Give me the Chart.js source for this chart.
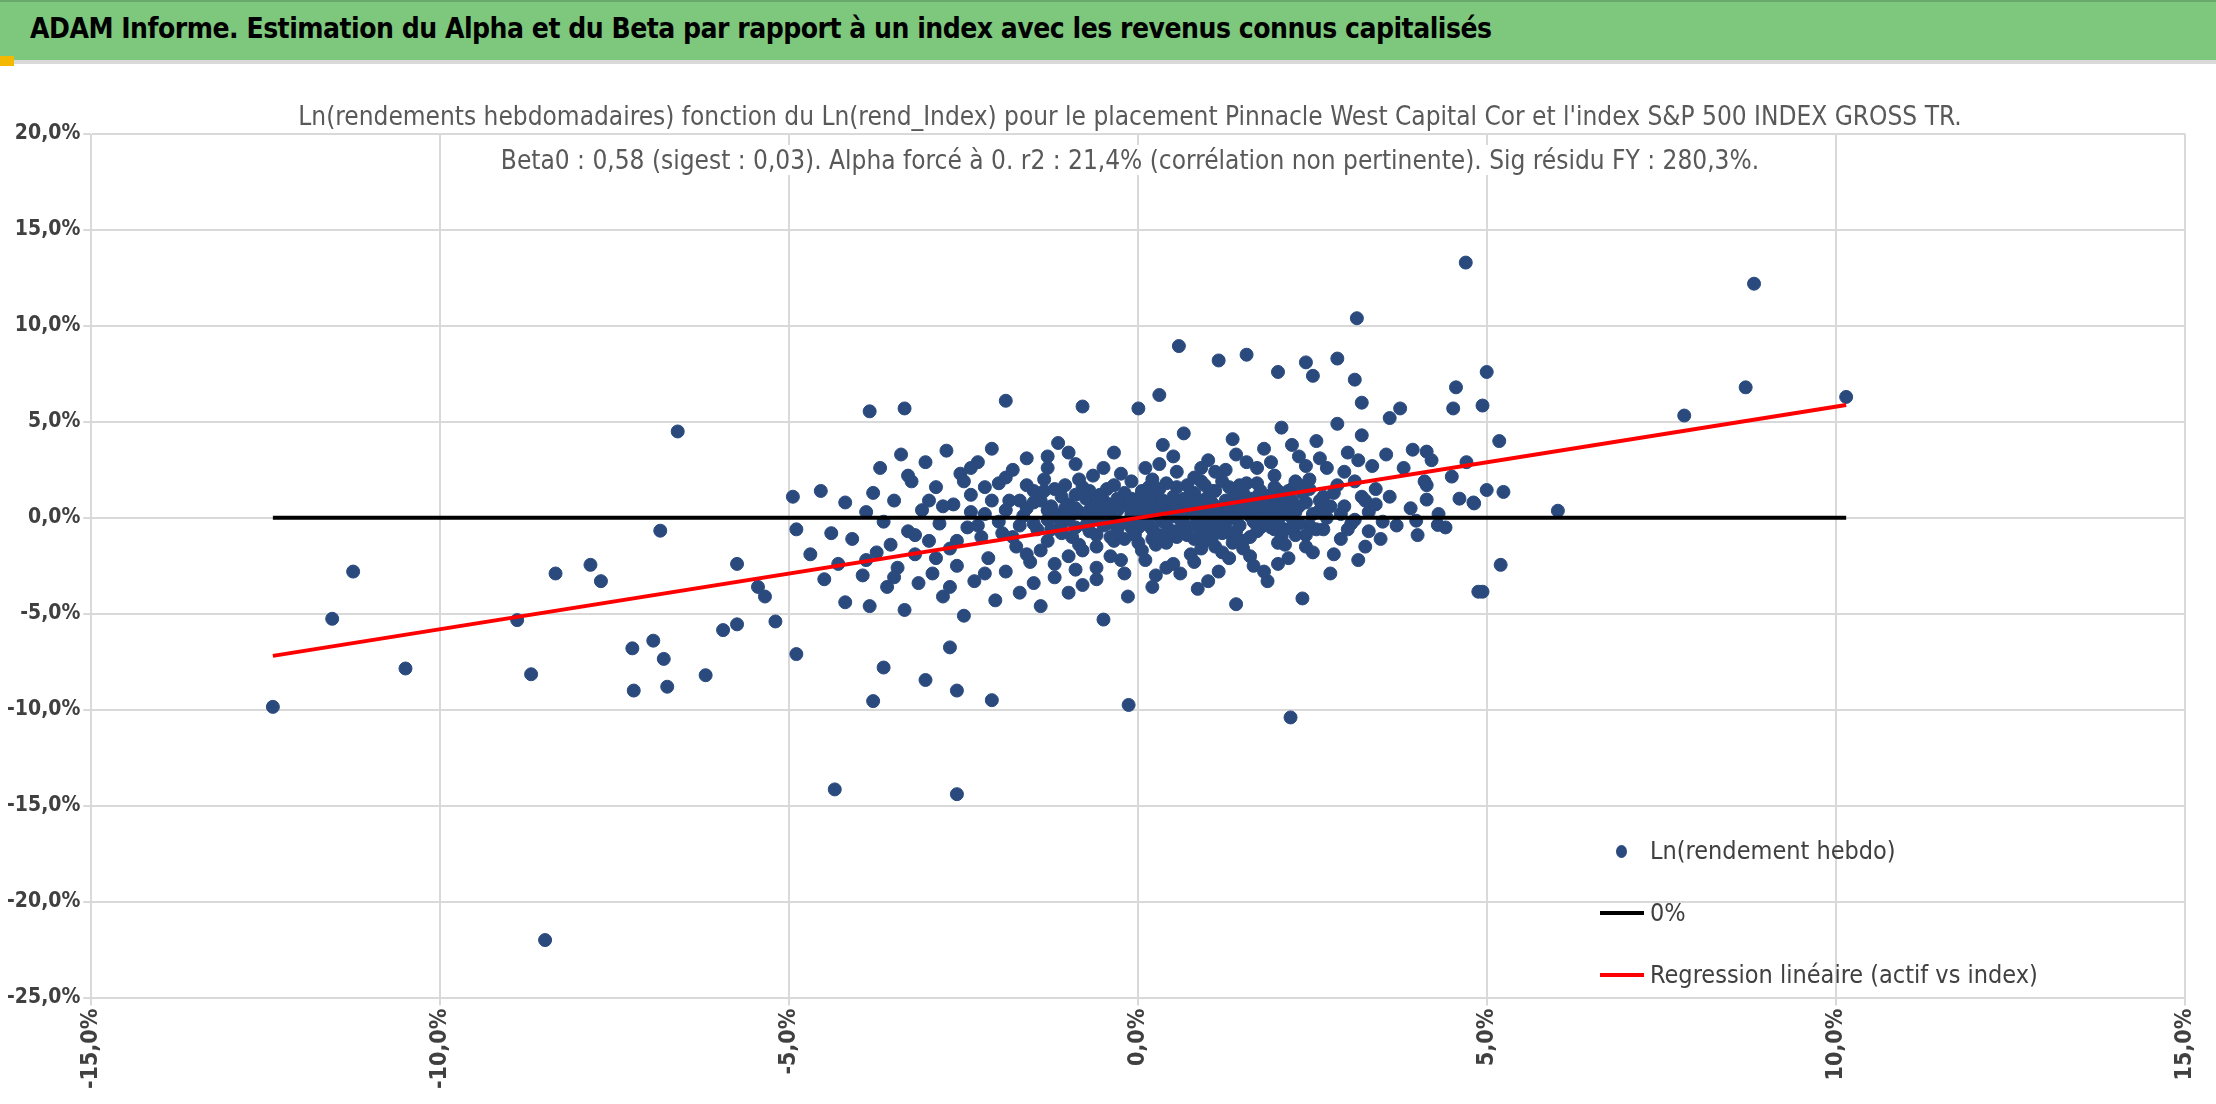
<!DOCTYPE html>
<html>
<head>
<meta charset="utf-8">
<script src="https://cdn.jsdelivr.net/npm/chart.js@4/dist/chart.umd.min.js"></script>
<style>
  body { margin:0; background:#fff; font-family:"DejaVu Sans",sans-serif; }
  #head { position:absolute; left:0; top:0; width:2216px; height:58px; background:#7dc87d; border-top:2px solid #6aa86a; border-bottom:4px solid #d9d9d9; }
  #head span { position:absolute; left:30px; top:10px; font-size:28px; font-weight:bold; color:#000; font-family:"DejaVu Sans Condensed","DejaVu Sans"; letter-spacing:-0.5px; }
  #mark { position:absolute; left:0; top:56px; width:14px; height:10px; background:#f5b800; }
  #wrap { position:absolute; left:0; top:64px; width:2216px; height:1040px; }
  #ttl { position:absolute; left:150px; top:94px; width:1960px; text-align:center; font-size:26px; line-height:44px; color:#595959; font-family:"DejaVu Sans Condensed","DejaVu Sans"; }
  #ttl span { background:#fff; }
  #leg { position:absolute; left:1600px; top:820px; font-size:25px; color:#404040; line-height:62px; font-family:"DejaVu Sans Condensed","DejaVu Sans"; }
  .row { display:flex; align-items:center; }
  .sym { width:44px; height:20px; position:relative; margin-right:6px; }
</style>
</head>
<body>
<div id="head"><span>ADAM Informe. Estimation du Alpha et du Beta par rapport à un index avec les revenus connus capitalisés</span></div>
<div id="mark"></div>
<div id="wrap"><canvas id="c" width="2216" height="1040"></canvas></div>
<div id="ttl"><span>Ln(rendements hebdomadaires) fonction du Ln(rend_Index) pour le placement Pinnacle West Capital Cor et l'index S&amp;P 500 INDEX GROSS TR.</span><br><span>Beta0 : 0,58 (sigest : 0,03). Alpha forcé à 0. r2 : 21,4% (corrélation non pertinente). Sig résidu FY : 280,3%.</span></div>
<div id="leg">
  <div class="row"><div class="sym"><div style="position:absolute;left:16px;top:4px;width:11px;height:13px;border-radius:50%;background:#2a4a7e"></div></div>Ln(rendement hebdo)</div>
  <div class="row"><div class="sym"><div style="position:absolute;left:0;top:8px;width:44px;height:4px;background:#000"></div></div>0%</div>
  <div class="row"><div class="sym"><div style="position:absolute;left:0;top:8px;width:44px;height:4px;background:#ff0000"></div></div>Regression linéaire (actif vs index)</div>
</div>
<script>
// weekly log returns, in % : [index, asset]
const outliers = [
  [-12.4,-9.85],[-11.55,-5.26],[-11.25,-2.8],[-10.5,-7.85],[-8.9,-5.33],[-8.7,-8.15],[-8.35,-2.9],
  [-7.85,-2.45],[-7.7,-3.3],[-7.25,-6.8],[-7.23,-9.0],[-6.95,-6.4],[-6.85,-0.67],[-6.8,-7.35],
  [-6.75,-8.8],[-6.6,4.5],[-6.2,-8.2],[-8.5,-22.0],[-5.95,-5.85],[-5.75,-2.4],[-5.75,-5.55],
  [-5.45,-3.6],[-5.35,-4.1],[-5.2,-5.4],[-4.95,1.1],[-4.9,-7.1],[-4.55,1.4],[-4.35,-14.15],
  [-3.85,5.55],[-3.8,-9.55],[-3.65,-7.8],[-3.35,5.7],[-3.05,-8.45],[-2.7,-6.75],[-2.6,-9.0],
  [-2.6,-14.4],[-2.1,-9.5],[-1.9,6.1],[-0.14,-9.75],[0.58,8.95],[4.69,13.3],[3.13,10.4],
  [2.18,-10.4],[4.99,7.6],[4.55,6.8],[4.51,5.7],[4.93,5.85],[5.17,4.0],[5.23,1.35],[4.99,1.45],
  [5.19,-2.45],[4.87,-3.85],[4.93,-3.85],[4.81,0.75],[3.98,-0.15],[4.29,-0.37],[3.75,5.7],
  [3.6,5.2],[4.13,3.45],[3.93,3.55],[4.49,2.15],[4.13,1.7],[4.13,0.95],[3.47,-1.1],[3.25,-1.5],
  [6.01,0.37],[7.82,5.33],[8.7,6.8],[8.82,12.2],[10.14,6.3],[1.55,8.5],[2.4,8.1],[2.85,8.3],
  [1.15,8.2],[2.0,7.6],[2.5,7.4],[3.1,7.2],[0.3,6.4],[-0.8,5.8],[0.0,5.7],[3.2,6.0]
];
const cloud = [
  [-4.9,-0.6],[-4.7,-1.9],[-4.5,-3.2],[-4.4,-0.8],[-4.3,-2.4],[-4.2,-4.4],[-4.1,-1.1],[-3.95,-3.0],
  [-3.9,0.3],[-3.85,-4.6],[-3.8,1.3],[-3.75,-1.8],[-3.7,2.6],[-3.65,-0.2],[-3.6,-3.6],[-3.55,-1.4],
  [-3.5,0.9],[-3.45,-2.6],[-3.4,3.3],[-3.35,-4.8],[-3.3,-0.7],[-3.25,1.9],[-3.2,-1.9],[-3.15,-3.4],
  [-3.1,0.4],[-3.05,2.9],[-3.0,-1.2],[-2.95,-2.9],[-2.9,1.6],[-2.85,-0.3],[-2.8,-4.1],[-2.75,3.5],
  [-2.7,-1.6],[-2.65,0.7],[-2.6,-2.5],[-2.55,2.3],[-2.5,-5.1],[-2.45,-0.5],[-2.4,1.2],[-2.35,-3.3],
  [-2.3,2.9],[-2.25,-1.0],[-2.2,0.2],[-2.15,-2.1],[-2.1,3.6],[-2.05,-4.3],[-2.0,1.8],[-1.95,-0.8],
  [-1.9,-2.8],[-1.85,0.9],[-1.8,2.5],[-1.75,-1.5],[-1.7,-3.9],[-1.65,0.1],[-1.6,3.1],[-1.55,-2.3],
  [-1.5,1.4],[-1.45,-0.6],[-1.4,-4.6],[-1.35,2.0],[-1.3,-1.2],[-1.25,0.6],[-1.2,-3.1],[-1.15,3.9],
  [-1.1,-0.3],[-1.05,1.7],[-1.0,-2.0],[-0.95,0.2],[-0.9,2.8],[-0.85,-1.4],[-0.8,-3.5],[-0.75,1.0],
  [-0.7,-0.7],[-0.65,2.2],[-0.6,-2.6],[-0.55,0.4],[-0.5,-5.3],[-0.45,1.5],[-0.4,-1.0],[-0.35,3.4],
  [-0.3,-0.2],[-0.25,-2.2],[-0.2,0.8],[-0.15,-4.1],[-0.1,1.9],[-0.05,-0.9],[0.0,0.3],[0.05,-1.7],
  [0.1,2.6],[0.15,-0.4],[0.2,1.1],[0.25,-3.0],[0.3,0.0],[0.35,3.8],[0.4,-1.3],[0.45,0.7],
  [0.5,-2.4],[0.55,1.6],[0.6,-0.6],[0.65,4.4],[0.7,0.3],[0.75,-1.9],[0.8,2.1],[0.85,-3.7],
  [0.9,0.9],[0.95,-0.2],[1.0,3.0],[1.05,-1.1],[1.1,1.4],[1.15,-2.8],[1.2,0.5],[1.25,2.5],
  [1.3,-0.8],[1.35,4.1],[1.4,-4.5],[1.45,1.1],[1.5,-1.6],[1.55,2.9],[1.6,0.1],[1.65,-2.5],
  [1.7,1.8],[1.75,-0.5],[1.8,3.6],[1.85,-3.3],[1.9,0.7],[1.95,2.2],[2.0,-1.3],[2.05,4.7],
  [2.1,0.2],[2.15,-2.1],[2.2,1.5],[2.25,-0.9],[2.3,3.2],[2.35,-4.2],[2.4,0.8],[2.45,2.0],
  [2.5,-1.8],[2.55,4.0],[2.6,0.4],[2.65,-0.6],[2.7,2.6],[2.75,-2.9],[2.8,1.3],[2.85,4.9],
  [2.9,-1.1],[2.95,0.6],[3.0,3.4],[3.05,-0.3],[3.1,1.9],[3.15,-2.2],[3.2,4.3],[3.25,0.9],
  [3.3,-0.7],[3.35,2.7],[3.4,1.5],[3.5,-0.2],[3.55,3.3],[3.6,1.1],[3.7,-0.4],[3.8,2.6],
  [3.9,0.5],[4.0,-0.9],[4.1,1.9],[4.2,3.0],[4.3,0.2],[4.4,-0.5],[4.6,1.0],[4.7,2.9],[4.8,0.8],
  [-0.9,0.5],[-0.7,-0.1],[-0.5,0.9],[-0.3,-0.6],[-0.1,0.2],[0.1,-0.3],[0.3,0.6],[0.5,0.1],
  [0.7,-0.9],[0.9,0.4],[1.1,-0.2],[1.3,0.9],[1.5,0.3],[1.7,-0.7],[1.9,1.2],[-1.1,1.1],
  [-0.8,1.6],[-0.6,-1.5],[-0.4,0.1],[-0.2,1.3],[0.0,-0.5],[0.2,-1.1],[0.4,1.8],[0.6,0.6],
  [0.8,1.3],[1.0,-0.6],[1.2,1.9],[1.4,0.4],[1.6,-1.0],[1.8,0.5],[2.0,1.4],[2.2,0.0],
  [-1.3,-0.1],[-1.0,0.7],[-0.75,-0.4],[-0.55,1.2],[-0.35,-1.2],[-0.15,0.6],[0.05,1.4],[0.25,0.3],
  [0.45,-0.7],[0.65,1.0],[0.85,0.0],[1.05,0.8],[1.25,-0.3],[1.45,1.7],[1.65,0.7],[1.85,-0.2],
  [2.05,0.9],[2.25,1.9],[2.45,-0.4],[2.65,1.1],[-1.6,0.5],[-1.4,-1.7],[-1.2,0.2],[-0.95,-1.0],
  [-0.65,0.0],[-0.45,-0.3],[-0.25,2.3],[-0.05,-0.1],[0.15,0.9],[0.35,-0.2],[0.55,2.4],[0.75,0.5],
  [0.95,1.7],[1.15,0.1],[1.35,-1.3],[1.55,0.6],[1.75,1.4],[1.95,-0.6],[2.15,0.5],[2.35,1.3],
  [-2.0,-0.2],[-1.8,-1.0],[-1.5,-0.3],[-1.2,1.5],[-0.9,-0.5],[-0.6,0.8],[-0.3,0.4],[0.0,1.0],
  [0.2,0.4],[0.4,0.5],[0.6,-0.1],[0.8,-0.4],[1.0,0.3],[1.2,-0.8],[1.4,1.2],[1.6,1.0],
  [1.8,-0.1],[2.0,0.4],[2.3,-0.3],[2.6,0.9],[2.9,0.2],[3.1,-0.1],[-2.4,0.3],[-2.8,0.6],
  [-3.2,-0.9],[-1.7,0.9],[-1.3,2.6],[-0.85,2.0],[0.3,2.8],[0.9,-1.6],[1.1,2.4],[1.7,2.6],
  [2.1,-0.6],[2.4,2.7],[2.7,0.0],[3.3,0.3],[-0.2,-2.9],[0.6,-2.9],[1.3,-2.1],[-1.0,-3.9]
];
const core = [
  [-1.0,-0.1],[-0.85,0.3],[-0.7,1.4],[-0.6,-0.9],[-0.4,0.7],[-0.2,-1.1],[-0.1,1.0],[0.1,0.7],
  [0.2,-0.6],[0.3,1.5],[0.4,-0.3],[0.5,1.1],[0.6,0.2],[0.7,1.7],[0.8,-1.1],[0.9,-0.7],
  [1.0,1.1],[1.1,0.6],[1.2,-0.4],[1.3,0.3],[1.4,-0.7],[1.5,1.3],[1.6,0.4],[1.7,0.2],
  [1.8,1.0],[1.9,-0.5],[2.0,-0.2],[2.1,1.1],[2.2,-0.5],[2.3,0.6],[2.4,-0.9],[2.5,0.2],
  [-1.5,0.8],[-1.3,0.4],[-1.1,-0.8],[-0.9,1.2],[-0.7,0.4],[-0.5,-0.4],[-0.3,1.0],[-0.1,-0.5],
  [0.05,0.5],[0.15,1.6],[0.25,-1.4],[0.35,0.9],[0.45,0.3],[0.55,-1.0],[0.65,-0.3],[0.75,1.3],
  [0.85,0.7],[0.95,-1.2],[1.05,1.4],[1.15,-0.6],[1.25,0.9],[1.35,0.0],[1.45,-0.4],[1.55,1.8],
  [1.65,-0.2],[1.75,0.9],[1.85,0.3],[1.95,1.6],[2.05,-1.0],[2.15,1.4],[2.25,0.3],[2.45,1.5],
  [-1.9,0.4],[-1.7,-0.4],[-1.6,1.7],[-1.4,0.9],[-1.25,-0.6],[-1.05,0.5],[-0.8,-1.7],[-0.55,-0.1],
  [-0.35,1.7],[-0.15,-0.2],[0.0,-1.3],[0.2,2.0],[0.35,0.4],[0.5,-0.7],[0.7,0.8],[0.9,1.9],
  [1.1,-1.5],[1.3,1.6],[1.5,-1.2],[1.7,1.1],[1.9,0.0],[2.1,-1.4],[2.3,1.7],[2.55,-0.6],
  [2.75,0.6],[2.85,1.7],[3.0,-0.6],[3.2,1.1],[3.4,0.7],[2.95,2.4],[3.15,3.0],[2.6,3.1],
  [-2.3,-0.4],[-2.1,0.9],[-2.6,-1.2],[-2.2,1.6],[-3.0,0.9],[-2.5,1.9],[-1.9,2.1],[-1.3,3.2],
  [-2.9,-2.1],[-2.2,-2.9],[-1.6,-1.9],[-1.2,-2.4],[-0.9,-2.7],[-0.4,-2.0],[0.1,-2.2],[0.4,-2.6],
  [0.8,-2.3],[1.2,-1.8],[1.6,-2.0],[2.0,-2.4],[2.4,-1.5],[2.8,-1.9],[-0.6,-3.2],[0.2,-3.6],
  [1.0,-3.3],[1.8,-2.8],[-1.5,-3.4],[-2.7,-3.6],[-3.5,-3.1],[-3.9,-2.2],[-4.2,0.8],[-3.3,2.2],
  [-2.4,2.6],[-1.0,3.4],[-0.5,2.6],[0.5,3.2],[0.9,2.6],[1.4,3.3],[1.9,2.9],[2.2,3.8],
  [-0.75,0.1],[-0.45,0.3],[-0.25,-0.3],[0.0,0.7],[0.15,0.1],[0.3,-0.9],[0.55,0.7],[0.8,0.2],
  [1.05,-0.3],[1.25,0.5],[1.45,0.7],[1.7,-0.3],[1.95,0.6],[2.2,0.9],[-1.15,0.0],[-1.35,1.4]
];
const regX = [-12.4, 10.14];
const beta = 0.58;

const navy = '#2a4a7e';
const toPts = a => a.map(p => ({x: p[0], y: p[1]}));
const pct = v => Number(v).toFixed(1).replace('.', ',') + '%';

new Chart(document.getElementById('c'), {
  data: {
    datasets: [
      { type:'line', label:'Regression linéaire (actif vs index)', data: regX.map(x => ({x, y: beta*x})),
        borderColor:'#ff0000', borderWidth:4, pointRadius:0, order:0 },
      { type:'line', label:'0%', data: regX.map(x => ({x, y: 0})),
        borderColor:'#000', borderWidth:4, pointRadius:0, order:1 },
      { type:'scatter', label:'Ln(rendement hebdo)', data: toPts(outliers.concat(cloud, core)),
        backgroundColor:navy, borderColor:navy, pointRadius:6.5, order:2 }
    ]
  },
  options: {
    responsive:false, animation:false,
    layout:{ padding:{ left:4, right:6, top:70, bottom:12 } },
    plugins:{ legend:{display:false}, tooltip:{enabled:false} },
    scales:{
      x:{ type:'linear', min:-15, max:15,
        ticks:{ stepSize:5, callback:pct, maxRotation:90, minRotation:90, color:'#404040',
          font:{ size:23, weight:'bold', family:'DejaVu Sans Condensed' } },
        grid:{ color:'#d9d9d9', lineWidth:2 }, border:{ color:'#d9d9d9' } },
      y:{ min:-25, max:20,
        ticks:{ stepSize:5, callback:pct, color:'#404040',
          font:{ size:21, weight:'bold', family:'DejaVu Sans Condensed' } },
        grid:{ color:'#d9d9d9', lineWidth:2 }, border:{ color:'#d9d9d9' } }
    }
  }
});
</script>
</body>
</html>
